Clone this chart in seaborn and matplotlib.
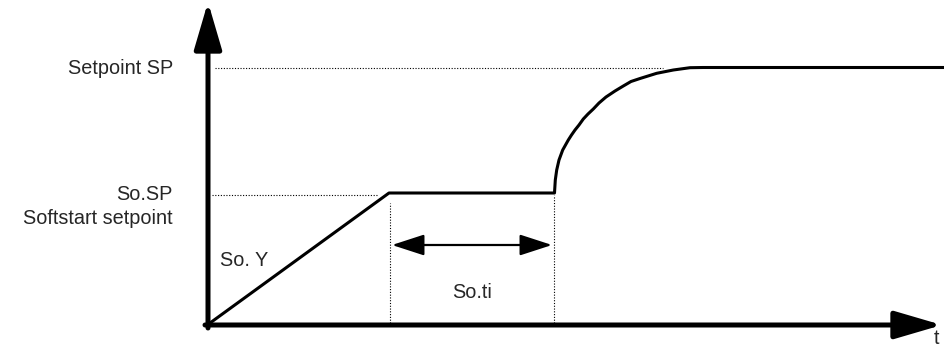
import matplotlib
matplotlib.use("Agg")
import pandas as pd
import seaborn as sns
import matplotlib.pyplot as plt

# softstart profile (time, value), origin at the axis crossing
t_profile = [2, 181, 346.5, 347.3, 348.7, 351, 354.7, 357.5, 360.3, 363.5,
             367, 371, 375.3, 380, 385.3, 391, 398, 407, 415.3, 423, 432,
             448.7, 465.3, 482, 495, 737]
y_profile = [2, 132, 132, 145, 155, 165, 175, 180, 185, 190,
             195, 200, 206, 211, 216, 222, 228, 234, 239, 243.5, 246.5,
             251.7, 255, 257.3, 257.5, 257.5]

sp_level = 257
so_sp_level = 130
t_ramp_end = 182
t_hold_end = 346
t_max = 734
y_max = 323

sns.set_style("white")
plt.rcParams['font.family'] = ['Liberation Sans', 'DejaVu Sans']

fig = plt.figure(figsize=(9.45, 3.47), dpi=100)
ax = fig.add_axes([0, 0, 1, 1])
ax.set_xlim(-208, 737)
ax.set_ylim(-22, 325)
ax.axis("off")

df = pd.DataFrame({"t": t_profile, "y": y_profile})
sns.lineplot(data=df, x="t", y="y", sort=False, estimator=None,
             color="black", linewidth=2.2, ax=ax)

# dotted guide lines
dot = dict(color="black", linewidth=0.8, linestyle=(0, (1, 1.5)))
ax.plot([7, 455], [sp_level, sp_level], **dot)
ax.plot([4, 170], [so_sp_level, so_sp_level], **dot)
ax.plot([t_ramp_end, t_ramp_end], [2, 122], **dot)
ax.plot([t_hold_end, t_hold_end], [2, 130], **dot)

# axes with arrow heads
axis_arrow = dict(arrowstyle="-|>,head_length=2.9,head_width=0.85",
                  color="black", linewidth=3.6, mutation_scale=10,
                  shrinkA=0, shrinkB=0)
ax.annotate("", xy=(0, y_max), xytext=(0, -3), arrowprops=axis_arrow)
ax.annotate("", xy=(t_max, 0), xytext=(-3, 0), arrowprops=axis_arrow)

# So.ti double arrow
ax.annotate("", xy=(t_hold_end - 2, 80), xytext=(t_ramp_end + 2, 80),
            arrowprops=dict(arrowstyle="<|-|>,head_length=2.0,head_width=0.65",
                            color="black", linewidth=1.6, mutation_scale=10,
                            shrinkA=0, shrinkB=0))

fs = 14.3
ax.text(-35, sp_level, "Setpoint SP", ha="right", va="center", fontsize=fs)
ax.text(-35, so_sp_level + 1, "So.SP", ha="right", va="center", fontsize=fs)
ax.text(-35, 107, "Softstart setpoint", ha="right", va="center", fontsize=fs)
ax.text(12, 65, "So. Y", ha="left", va="center", fontsize=fs)
ax.text((t_ramp_end + t_hold_end) / 2, 32, "So.ti", ha="center", va="center", fontsize=fs)
ax.text(728, -13, "t", ha="center", va="center", fontsize=fs)

fig.savefig("out.png", dpi=100)
